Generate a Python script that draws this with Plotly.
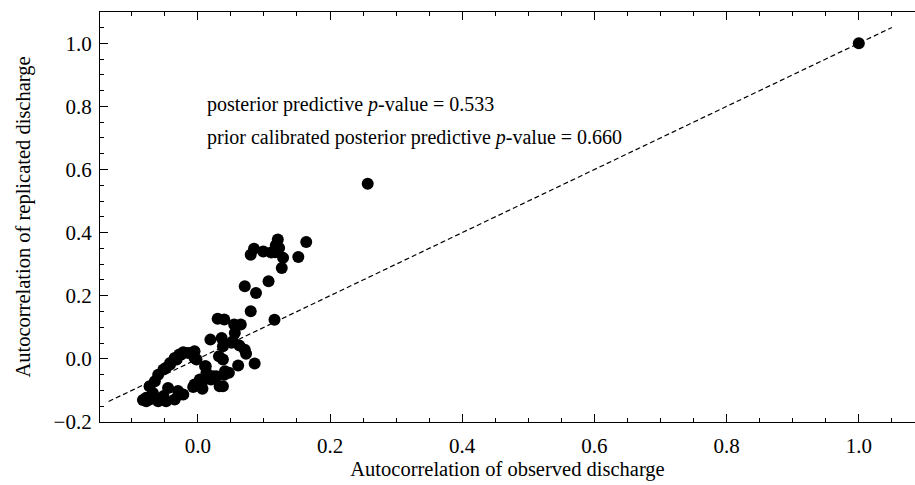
import plotly.graph_objects as go

# Observed vs replicated autocorrelation
obs_acf = [
    1.000, 0.257,
    0.164, 0.121, 0.085, 0.080, 0.099, 0.111, 0.123, 0.129, 0.127, 0.152,
    0.107, 0.071, 0.088, 0.080, 0.116, 0.055, 0.065,
    0.030, 0.040, 0.019, 0.036, 0.053, 0.038, 0.063, 0.071, 0.073, 0.056, 0.051,
    0.032, 0.038, 0.086, 0.061, 0.047, 0.040, 0.023, 0.038, 0.033,
    -0.005, -0.010, -0.015, -0.022, -0.025, -0.028, -0.005, -0.002, -0.035,
    -0.032, -0.042, -0.042, -0.048, -0.052, -0.060, -0.065, -0.073, 0.011, 0.012,
    -0.078, -0.065, -0.052, -0.045, -0.030, -0.022, -0.035, -0.048, -0.060,
    -0.078, -0.073, -0.068, -0.005, 0.003, 0.013, 0.020, 0.028, 0.006, -0.007,
    0.007, 0.011, 0.041, -0.027, -0.083, 0.117, 0.118,
]
rep_acf = [
    1.000, 0.555,
    0.370, 0.378, 0.349, 0.330, 0.340, 0.337, 0.351, 0.320, 0.288, 0.323,
    0.246, 0.230, 0.209, 0.151, 0.124, 0.109, 0.109,
    0.127, 0.125, 0.061, 0.066, 0.056, 0.040, 0.042, 0.029, 0.016, 0.082, 0.051,
    0.008, -0.002, -0.015, -0.021, -0.044, -0.050, -0.055, -0.087, -0.087,
    0.024, 0.019, 0.019, 0.021, 0.014, 0.014, 0.003, -0.002, 0.003,
    -0.002, -0.013, -0.018, -0.028, -0.034, -0.050, -0.071, -0.087, -0.023, -0.023,
    -0.123, -0.123, -0.118, -0.092, -0.102, -0.113, -0.129, -0.134, -0.134,
    -0.134, -0.129, -0.108, -0.081, -0.065, -0.044, -0.065, -0.055, -0.076, -0.089,
    -0.095, -0.063, -0.039, -0.113, -0.130, 0.338, 0.360,
]
ref_line = [-0.135, 1.05]
x_tickvals = [0.0, 0.2, 0.4, 0.6, 0.8, 1.0]
x_ticktext = ["0.0", "0.2", "0.4", "0.6", "0.8", "1.0"]
y_tickvals = [-0.2, 0.0, 0.2, 0.4, 0.6, 0.8, 1.0]
y_ticktext = ["\u22120.2", "0.0", "0.2", "0.4", "0.6", "0.8", "1.0"]

ppp_text = "posterior predictive <i>p</i>-value = 0.533"
pcppp_text = "prior calibrated posterior predictive <i>p</i>-value = 0.660"
x_title = "Autocorrelation of observed discharge"
y_title = "Autocorrelation of replicated discharge"

FONT = "Liberation Serif"
FS = 20

fig = go.Figure()
fig.add_trace(go.Scatter(
    x=ref_line, y=ref_line, mode="lines",
    line=dict(color="black", width=1.2, dash="5px,3px"),
    showlegend=False, hoverinfo="skip",
))
fig.add_trace(go.Scatter(
    x=obs_acf, y=rep_acf, mode="markers",
    marker=dict(color="black", size=12, line=dict(width=0)),
    showlegend=False,
))

def axis_common():
    return dict(
        showgrid=False, zeroline=False, showline=True, linecolor="black", linewidth=1.3,
        ticks="inside", ticklen=8, tickwidth=1.1, tickcolor="black",
        tickmode="array",
        tickfont=dict(family=FONT, size=21, color="black"),
        minor=dict(ticks="inside", ticklen=4, tickwidth=1.1, tickcolor="black",
                   tickmode="linear", dtick=0.05, tick0=0),
    )

fig.update_layout(
    width=915, height=485,
    margin=dict(l=100, r=0, t=12, b=63),
    paper_bgcolor="white", plot_bgcolor="white",
    font=dict(family=FONT, size=FS, color="black"),
    xaxis=dict(**axis_common(), range=[-0.148, 1.085], mirror="allticks",
               tickvals=x_tickvals, ticktext=x_ticktext, ticklabelstandoff=5,
               title=dict(text=x_title, font=dict(family=FONT, size=20.5), standoff=3)),
    yaxis=dict(**axis_common(), range=[-0.2, 1.099], mirror=False,
               tickvals=y_tickvals, ticktext=y_ticktext, ticklabelstandoff=3,
               title=dict(text=y_title, font=dict(family=FONT, size=20.5), standoff=17)),
    annotations=[
        dict(x=0.0106, y=0.805, xref="x", yref="y", text=ppp_text, showarrow=False,
             xanchor="left", yanchor="middle", font=dict(family=FONT, size=FS, color="black")),
        dict(x=0.0106, y=0.700, xref="x", yref="y", text=pcppp_text, showarrow=False,
             xanchor="left", yanchor="middle", font=dict(family=FONT, size=FS, color="black")),
    ],
)

fig.write_html("out.html")
